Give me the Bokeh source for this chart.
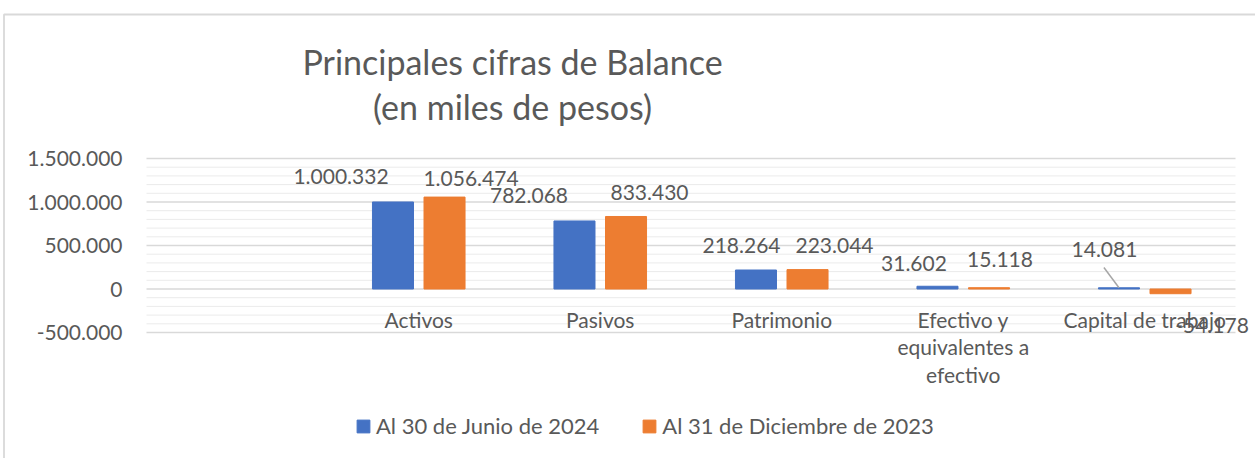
import numpy as np
from bokeh.plotting import figure
from bokeh.models import (Range1d, FixedTicker, LabelSet, Label, ColumnDataSource,
                          Legend, LegendItem, LinearAxis, BoxAnnotation)
from bokeh.embed import file_html
from bokeh.resources import INLINE
from bokeh.core.properties import value

# ---------------- data ----------------
title_lines = ["Principales cifras de Balance", "(en miles de pesos)"]
categories = ["Activos", "Pasivos", "Patrimonio",
              "Efectivo y\nequivalentes a\nefectivo", "Capital de trabajo"]
series_names = ["Al 30 de Junio de 2024", "Al 31 de Diciembre de 2023"]
jun_2024 = [1000332, 782068, 218264, 31602, 14081]
dic_2023 = [1056474, 833430, 223044, 15118, -54178]
y_ticks = [-500000, 0, 500000, 1000000, 1500000]
y_minor_step = 100000

# ---------------- layout / styles (pixels) ----------------
W, H = 1255, 458
PLOT_LEFT = 146          # left edge of the plotting area, px from canvas left
PX_PER_CAT = 181.5       # width of one category slot
ZERO_Y = 288.5           # zero line, px from canvas top
PX_PER_500K = 43.5
BLUE = "#4472C4"
ORANGE = "#ED7D31"
TXT = "#595959"
FONT = "Lato"
jun_label_dx = [-52, -45.5, -14.5, -23.5, -14.5]
jun_label_dy = [25, 25, 24.5, 23, 38]
dic_label_dx = [26.5, 23.5, 27, 11, 41.5]
dic_label_dy = [18.6, 23.5, 24, 27.7, -32]


def fmt(v):
    return f"{v:,}".replace(",", ".")


n_slots = len(categories) + 1            # slot 0 is an empty category
x = np.arange(1, n_slots)
bar_w = 0.226
dodge = 0.142
x_lo, x_hi = -0.5, n_slots - 0.5          # extent of the plotting area

x_start = x_lo - PLOT_LEFT / PX_PER_CAT
x_end = x_start + W / PX_PER_CAT
per_px = 500000 / PX_PER_500K
y_end = ZERO_Y * per_px
y_start = -(H - ZERO_Y) * per_px

src_j = ColumnDataSource(dict(x=x - dodge, top=jun_2024,
                              lbl=[fmt(v) for v in jun_2024],
                              dx=jun_label_dx, dy=jun_label_dy))
src_d = ColumnDataSource(dict(x=x + dodge, top=dic_2023,
                              lbl=[fmt(v) for v in dic_2023],
                              dx=dic_label_dx, dy=dic_label_dy))

p = figure(width=W, height=H,
           x_range=Range1d(x_start, x_end), y_range=Range1d(y_start, y_end),
           output_backend="svg", toolbar_location=None,
           x_axis_location=None, y_axis_location=None,
           min_border_left=0, min_border_right=0,
           min_border_top=0, min_border_bottom=0,
           border_fill_color="white", background_fill_color="white",
           outline_line_color=None)
p.xgrid.visible = False
p.ygrid.visible = False

# gridlines over the plotting area only
minor_vals = [v for v in range(y_ticks[0], y_ticks[-1] + 1, y_minor_step) if v not in y_ticks]
p.segment(x0=x_lo, x1=x_hi, y0=minor_vals, y1=minor_vals,
          line_color="#EBEBEB", line_width=1)
p.segment(x0=x_lo, x1=x_hi, y0=y_ticks, y1=y_ticks,
          line_color="#D9D9D9", line_width=1.3)

# y axis (at the left edge of the plotting area)
yax = LinearAxis(fixed_location=x_lo,
                 ticker=FixedTicker(ticks=y_ticks),
                 major_label_overrides={t: fmt(t) for t in y_ticks},
                 axis_line_color=None, major_tick_line_color=None,
                 minor_tick_line_color=None, major_tick_out=0, major_tick_in=0,
                 major_label_standoff=24,
                 major_label_text_font=FONT, major_label_text_font_size="21px",
                 major_label_text_color=TXT)
p.add_layout(yax, "left")

# x axis (category names next to the zero line)
xax = LinearAxis(fixed_location=0,
                 ticker=FixedTicker(ticks=list(x)),
                 major_label_overrides={int(i): c for i, c in zip(x, categories)},
                 axis_line_color=None, major_tick_line_color=None,
                 minor_tick_line_color=None, major_tick_out=0, major_tick_in=0,
                 major_label_standoff=18,
                 major_label_text_font=FONT, major_label_text_font_size="21px",
                 major_label_text_color=TXT, major_label_text_line_height=1.09)
p.add_layout(xax, "below")

# bars
r1 = p.vbar(x="x", top="top", width=bar_w, bottom=0, source=src_j,
            fill_color=BLUE, line_color=BLUE)
r2 = p.vbar(x="x", top="top", width=bar_w, bottom=0, source=src_d,
            fill_color=ORANGE, line_color=ORANGE)

# data labels
for s in (src_j, src_d):
    p.add_layout(LabelSet(x="x", y="top", text="lbl", source=s,
                          x_offset="dx", y_offset="dy",
                          text_align="center", text_baseline="middle",
                          text_font=value(FONT), text_font_size="21px",
                          text_color=TXT))

# leader line for the relocated "14.081" label
lead_i = 4
lead_dx = -0.083
lead_dy = 233000
p.segment(x0=[x[lead_i] - dodge + lead_dx], y0=[jun_2024[lead_i] + lead_dy],
          x1=[x[lead_i] - dodge], y1=[jun_2024[lead_i]],
          line_color="#A6A6A6", line_width=1.5)

# title
for txt, yy in zip(title_lines, (H - 61, H - 106)):
    p.add_layout(Label(x=512, y=yy, x_units="screen", y_units="screen",
                       text=txt, text_align="center", text_baseline="middle",
                       text_font=FONT, text_font_size="34px",
                       text_color=TXT))

# chart border (top and left edges; the others run past the window)
p.add_layout(BoxAnnotation(left=3.5, right=W + 20, top=H - 14, bottom=-20,
                           left_units="screen", right_units="screen",
                           top_units="screen", bottom_units="screen",
                           fill_color=None, fill_alpha=0,
                           line_color="#D9D9D9", line_alpha=1.0, line_width=1.8))

# legend
legend = Legend(items=[LegendItem(label=series_names[0], renderers=[r1]),
                       LegendItem(label=series_names[1], renderers=[r2])],
                orientation="horizontal", location=(355, 19),
                glyph_width=16, glyph_height=16, label_standoff=5, spacing=42,
                padding=0, margin=0, border_line_color=None,
                background_fill_color=None,
                label_text_font=FONT, label_text_font_size="22px",
                label_text_color=TXT, label_height=20)
p.add_layout(legend, "center")

open("out.html", "w").write(file_html(p, INLINE))
